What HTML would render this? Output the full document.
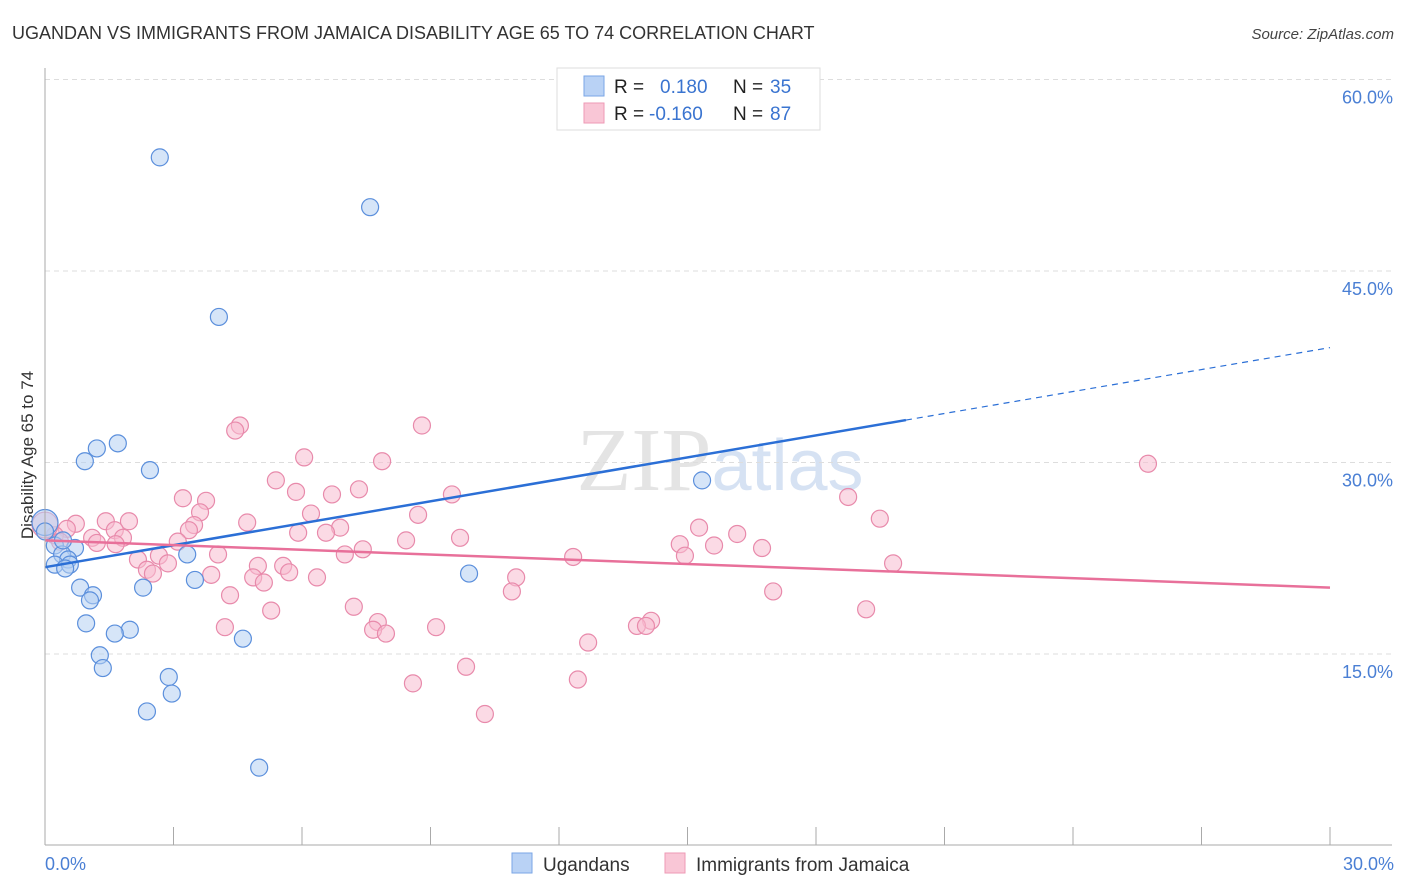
<!DOCTYPE html>
<html><head><meta charset="utf-8"><style>
body{margin:0;background:#fff;font-family:"Liberation Sans",sans-serif;}
#wrap{position:relative;width:1406px;height:892px;overflow:hidden}
</style></head><body><div id="wrap">
<svg id="svg" width="1406" height="892" xmlns="http://www.w3.org/2000/svg">
<text x="12" y="39" font-size="18" fill="#333">UGANDAN VS IMMIGRANTS FROM JAMAICA DISABILITY AGE 65 TO 74 CORRELATION CHART</text>
<text x="1394" y="39" font-size="15" fill="#444" font-style="italic" text-anchor="end">Source: ZipAtlas.com</text>
<text x="720" y="490" font-size="90" fill="#e4e4e4" text-anchor="middle" font-family="Liberation Serif,serif">ZIP<tspan fill="#d6e2f3" font-family="Liberation Sans,sans-serif" font-size="72">atlas</tspan></text>
<text transform="translate(33,455) rotate(-90)" font-size="17" fill="#333" text-anchor="middle">Disability Age 65 to 74</text>
<g id="grid"></g><g id="pts"></g><g id="lines"></g>
<line x1="45" y1="68" x2="45" y2="845" stroke="#aaa"/>
<line x1="45" y1="845" x2="1392" y2="845" stroke="#aaa"/>
<text x="45" y="870" font-size="18" fill="#4a7fd4">0.0%</text>
<text x="1394" y="870" font-size="18" fill="#4a7fd4" text-anchor="end">30.0%</text>
<g>
<rect x="557" y="68" width="263" height="62" fill="#fff" stroke="#ddd"/>
<rect x="584" y="76" width="20" height="20" fill="#b9d2f5" stroke="#7aa6e6"/>
<rect x="584" y="103" width="20" height="20" fill="#f9c6d6" stroke="#ee9ab5"/>
<text x="614" y="93" font-size="19" fill="#222">R = </text><text x="660" y="93" font-size="19" fill="#3a74d0">0.180</text>
<text x="733" y="93" font-size="19" fill="#222">N = </text><text x="770" y="93" font-size="19" fill="#3a74d0">35</text>
<text x="614" y="120" font-size="19" fill="#222">R = </text><text x="649" y="120" font-size="19" fill="#3a74d0">-0.160</text>
<text x="733" y="120" font-size="19" fill="#222">N = </text><text x="770" y="120" font-size="19" fill="#3a74d0">87</text>
</g>
<g>
<rect x="512" y="853" width="20" height="20" fill="#b9d2f5" stroke="#7aa6e6"/>
<text x="543" y="871" font-size="19" fill="#333">Ugandans</text>
<rect x="665" y="853" width="20" height="20" fill="#f9c6d6" stroke="#ee9ab5"/>
<text x="696" y="871" font-size="19" fill="#333">Immigrants from Jamaica</text>
</g>
</svg></div>
<script>
const yTicks=[15,30,45,60];
const xTicks=[0,3,6,9,12,15,18,21,24,27,30];
const blueX=[2.68,7.59,4.06,1.70,1.21,0.93,2.45,15.34,0,0,0.23,0.70,0.40,3.32,0.54,0.23,0.58,0.47,9.90,3.50,0.82,2.29,1.12,1.05,0.96,1.98,1.63,4.62,1.28,1.35,2.89,2.96,2.38,5.00,0.42];
const blueY=[53.9,50.0,41.4,31.5,31.1,30.1,29.4,28.6,25.3,24.6,23.5,23.3,22.8,22.8,22.4,22.0,22.0,21.7,21.3,20.8,20.2,20.2,19.6,19.2,17.4,16.9,16.6,16.2,14.9,13.9,13.2,11.9,10.5,6.1,23.9];
const pinkX=[25.75,8.80,4.55,4.44,6.05,7.87,5.39,7.33,3.22,5.86,6.70,9.50,3.76,18.75,3.62,6.21,8.71,19.49,1.42,1.96,4.72,0.72,3.48,6.89,0.51,3.36,15.27,1.63,5.91,6.56,0.23,16.16,1.10,1.82,9.69,8.43,0.35,3.10,1.21,14.82,1.65,15.62,16.74,7.42,7.00,4.04,2.66,12.33,14.94,2.17,2.87,19.80,4.97,5.56,2.38,5.70,2.52,3.88,4.86,6.35,11.00,5.11,10.90,4.32,17.00,7.21,5.28,19.17,14.15,7.77,4.20,9.13,13.82,14.03,7.66,7.96,12.68,9.83,12.44,8.59,10.27,0];
const pinkY=[29.9,32.9,32.9,32.5,30.4,30.1,28.6,27.9,27.2,27.7,27.5,27.5,27.0,27.3,26.1,26.0,25.9,25.6,25.4,25.4,25.3,25.2,25.1,24.9,24.8,24.7,24.9,24.7,24.5,24.5,24.3,24.4,24.1,24.1,24.1,23.9,23.8,23.8,23.7,23.6,23.6,23.5,23.3,23.2,22.8,22.8,22.7,22.6,22.7,22.4,22.1,22.1,21.9,21.9,21.6,21.4,21.3,21.2,21.0,21.0,21.0,20.6,19.9,19.6,19.9,18.7,18.4,18.5,17.6,17.5,17.1,17.1,17.2,17.2,16.9,16.6,15.9,14.0,13.0,12.7,10.3,25.1];
const blueTrend=[21.8,39.0]; // value at x=0 and x=30
const pinkTrend=[23.9,20.2];
const NS="http://www.w3.org/2000/svg";
const sx=v=>45+v/30*1285, sy=v=>845.5-v/15*191.5;
function mk(t,a,p){const e=document.createElementNS(NS,t);for(const k in a)e.setAttribute(k,a[k]);p.appendChild(e);return e;}
const grid=document.getElementById('grid'),pts=document.getElementById('pts'),lines=document.getElementById('lines');
yTicks.forEach(t=>{const y=sy(t);
 const l=mk('line',{x1:45,x2:1392,y1:y,y2:y,stroke:'#ddd','stroke-dasharray':'5,4'},grid);
 
 
 const tx=mk('text',{x:1393,y:y+24,'font-size':18,fill:'#4a7fd4','text-anchor':'end'},grid);tx.textContent=t.toFixed(1)+'%';
 
 });
xTicks.forEach(t=>{const x=sx(t);
 const l=mk('line',{x1:x,x2:x,y1:827,y2:845,stroke:'#aaa'},grid);
 
 });
function dots(X,Y,fill,stroke,name){X.forEach((x,i)=>{const big=x===0&&i===X.length-(name==='pink-point'?1:27);
 const c=mk('circle',{cx:sx(X[i]),cy:sy(Y[i]),r:big?13:8.5,fill:fill,'fill-opacity':0.55,stroke:stroke,'stroke-width':1.2},pts);
 
 });}
dots(pinkX,pinkY,'#f7bcd0','#e88aab','pink-point');
dots(blueX,blueY,'#b4cff3','#5b8fdc','blue-point');
const bx=20.1, by=blueTrend[0]+(blueTrend[1]-blueTrend[0])*bx/30;
let l=mk('line',{x1:sx(0),y1:sy(blueTrend[0]),x2:sx(bx),y2:sy(by),stroke:'#2b6fd6','stroke-width':2.5},lines);


l=mk('line',{x1:sx(bx),y1:sy(by),x2:sx(30),y2:sy(blueTrend[1]),stroke:'#2b6fd6','stroke-width':1.2,'stroke-dasharray':'6,5'},lines);


l=mk('line',{x1:sx(0),y1:sy(pinkTrend[0]),x2:sx(30),y2:sy(pinkTrend[1]),stroke:'#e8709a','stroke-width':2.5},lines);


</script></body></html>
